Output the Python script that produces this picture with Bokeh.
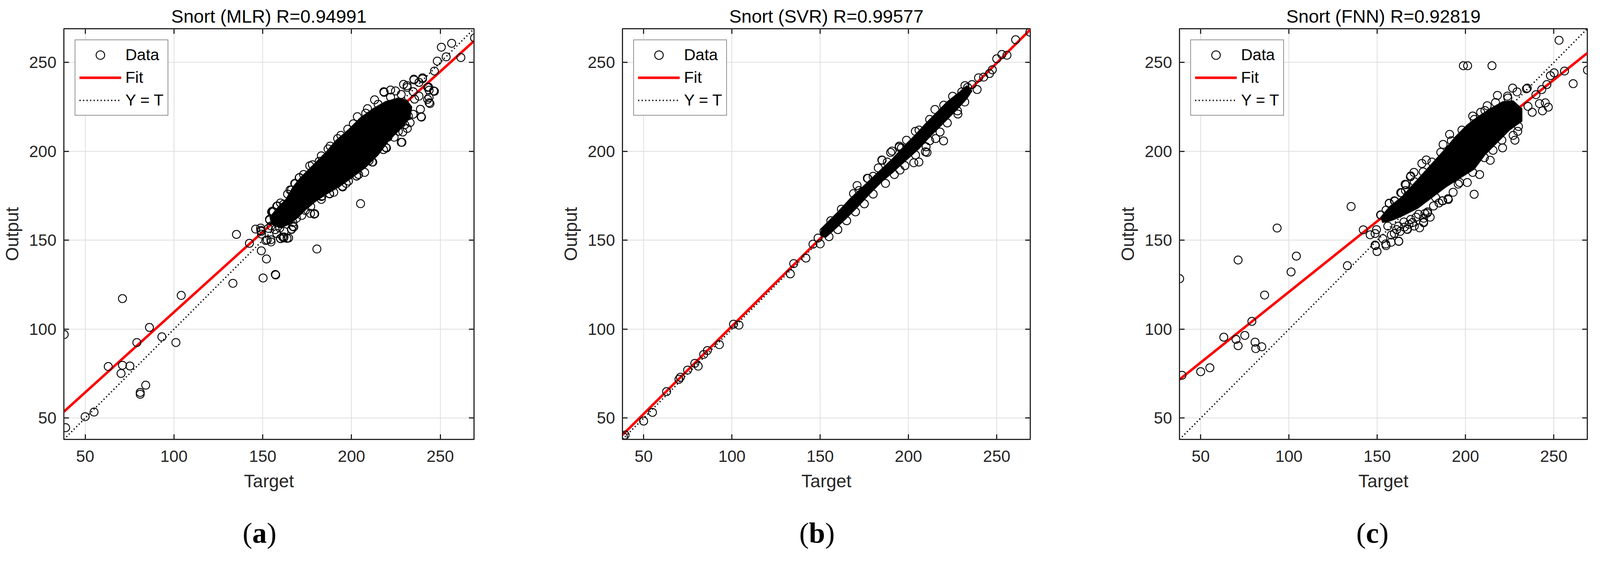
from bokeh.embed import file_html
from bokeh.layouts import column, row
from bokeh.models import Div, FixedTicker, Legend, LegendItem, LinearAxis, Range1d
from bokeh.plotting import figure
from bokeh.resources import INLINE

# Axis limits and ticks shared by the three regression panels.
axis_limits = [38, 269]
tick_values = [50, 100, 150, 200, 250]
identity_line = [38, 269]

# Panel (a): MLR
mlr_title = "Snort (MLR) R=0.94991"
mlr_fit_output = [53.6, 262.1]
mlr_target = [
    38.2, 39, 50, 55, 63, 71, 70.2, 71, 75.2, 79.1, 84.1, 81, 81, 86.2, 93.2, 101.1, 104.1,
    133.2, 135.2, 142.5, 146, 149.2, 150.2, 152.1, 157.1, 157.3, 149.2, 151.7, 154.6, 155.6,
    160, 162, 164.6, 167.5, 179.3, 180.5, 205.1,
    148.9, 149.3, 152.5, 154.7, 153.2, 154.7, 153.9, 157.9, 161.8, 160, 166.2, 166.9, 169,
    179.1, 174, 170.8, 183.4, 187.7, 194.9, 202.8, 155.4, 158.3, 161.8, 165.4, 168.3, 170.5,
    218.2, 229.3, 235.1, 240, 242.9, 246.2, 243.7, 243.7, 238.8, 239.2, 233, 228.9, 228,
    219.4, 220.6, 202.9, 195, 187.6, 183.1, 179, 176.9, 203.3, 197.9, 192.2, 186.8, 181.8,
    176.5, 170.7, 166.2, 157.9, 155, 153.8, 148.8, 224.8, 231.4, 234.7, 235.5, 238, 243.7,
    231.4, 226.4, 211.6, 209.9, 207.4, 198.3, 163.7, 166.2, 159.6, 161.2,
    228.4, 219.7, 239.4, 244.2, 242.9, 246.7, 243.4, 235.2, 240, 238, 246.7, 248.3, 250.6,
    253.3, 256.4, 261.6, 269.3, 218.4, 231.3, 234.7, 209, 213, 222,
    156, 160, 164, 168, 173, 178, 183, 188, 194, 201, 208, 215, 222, 228,
    232, 230, 224, 218, 212, 204, 197, 190, 183, 177, 172, 167, 162, 157,
]
mlr_output = [
    97, 44.6, 50.8, 53.4, 79, 117.2, 75.1, 79.7, 79.3, 92.5, 68.5, 64.4, 63.4, 101, 95.7, 92.5, 119,
    125.8, 153.3, 148.3, 156.3, 144.1, 128.8, 139.5, 130.8, 130.5, 155, 149.9, 150.3, 165.9,
    151, 151.9, 151.3, 157.5, 164.9, 145.1, 170.6,
    155.6, 153.5, 150.2, 149.1, 156.7, 158.1, 161.4, 153.8, 151.3, 150.9, 156.3, 157.8, 162.4,
    165, 166.8, 168.9, 175, 176.1, 180.4, 186.2, 166.4, 169.3, 170.3, 178.3, 181.8, 185.1,
    233.6, 237.7, 240.6, 241.4, 236, 234, 227.4, 230.3, 223.7, 219.5, 216.2, 210.9, 205.1,
    202.2, 208, 186.1, 180, 176.3, 174.6, 164.7, 165.1, 219.5, 212.5, 207.2, 201.4, 194.4,
    191.9, 185.3, 178.3, 169.2, 166, 161.8, 156.9, 234, 236, 233.6, 229.4, 231.1, 234.4,
    212.9, 211.3, 194, 194.8, 188.2, 183.3, 151.1, 156.1, 156.9, 151.9,
    205.1, 201.9, 219.3, 226.9, 229.3, 233.8, 236.2, 240.2, 240.8, 238.8, 245.2, 250.8, 258.6,
    253.2, 260.8, 252.8, 263.8, 233.2, 237, 220.9, 224, 229, 234.5,
    166, 171, 176, 182, 187, 192.5, 197.5, 203, 209, 215.5, 221.5, 226.5, 230.5, 232,
    220, 215, 208, 201, 194, 187, 182, 177, 173, 169, 164, 160, 155, 156,
]
# outline of the region where the MLR circles overlap into solid black
mlr_core_target = [154, 158, 163, 167, 171, 176, 181, 186, 191, 198, 205, 212, 219, 226, 231,
                   234, 233, 228, 221, 215, 208, 200, 193, 186, 180, 174, 170, 165, 160, 155]
mlr_core_output = [163, 168, 173, 180, 185, 190, 195, 200, 206, 212, 219, 224, 228, 230, 229,
                   225, 219, 213, 206, 198, 191, 185, 180, 176, 172, 167, 163, 159, 157, 159]

# Panel (b): SVR
svr_title = "Snort (SVR) R=0.99577"
svr_fit_output = [40.5, 268.5]
svr_target = [
    38.5, 39.5, 50, 55, 63, 70, 70.8, 74.9, 79, 80.9, 84, 86.1, 92.9, 100.9, 104, 133.1, 135,
    141.9, 145.9, 150, 148.8, 152.1,
    215, 203.9, 198.9, 194.8, 190.7, 184.9, 182.9, 176.7, 170.9, 168.9, 195.2, 203, 205.9,
    209.6, 210, 215.4, 217.9, 219.9, 238.9, 239.7, 242.6, 245.9, 247.5, 250, 252.9, 255.8,
    260.7, 268.8, 236, 233.5, 230.2, 227.8, 231.9, 227.8, 210.5, 185.1, 189.9, 194.7, 177,
    155, 160, 165, 170, 175, 180, 187, 192, 198, 204, 212, 222, 228,
    156, 162, 172, 180, 188, 196, 206, 212, 220, 225, 232,
]
svr_output = [
    39.5, 40.5, 48.3, 53.2, 64.9, 71.8, 73, 77, 80.8, 79.2, 85.8, 88, 91.3, 102.8, 102.3, 131.1,
    136.9, 140, 147.8, 148, 151.3, 155,
    223.6, 211.3, 206.3, 203, 200.2, 195.2, 190.7, 184.9, 180.8, 176.3, 189.5, 193.6, 194,
    199.8, 202.6, 207.2, 210.9, 205.9, 234.8, 241.4, 241.8, 243.8, 245.9, 252.1, 254.5, 254.1,
    262.8, 267.1, 237.6, 236, 233.5, 229.4, 227.8, 222.8, 199.4, 195, 199.4, 202.3, 184.8,
    152, 156, 161, 166, 170.5, 176, 182, 187, 192, 198, 206, 216, 221,
    161, 167.5, 178, 186, 194, 202, 212, 218, 226, 231, 237,
]
svr_core_target = [151, 160, 167, 175, 183, 191, 198, 204, 210, 216, 222, 229, 233, 236, 233,
                   227, 221, 216, 211, 206, 201, 196.5, 191, 185, 178, 171, 164, 157, 153, 150]
svr_core_output = [157, 166, 173.5, 181, 188.5, 196, 203.5, 209.5, 216, 222, 228, 233.5, 237,
                   234, 229.5, 223, 217, 212, 207, 201.5, 197, 193, 188, 183, 176, 168.5, 161.5,
                   155, 151.5, 153]

# Panel (c): FNN
fnn_title = "Snort (FNN) R=0.92819"
fnn_fit_output = [71.7, 255.3]
fnn_target = [
    38.1, 39.4, 50, 55.2, 63.1, 70, 71.2, 75, 71.2, 79, 80.8, 81.2, 84.6, 86.2, 93.3, 101.2,
    104.2, 133.1, 135.2, 142.1,
    146, 148.8, 149.6, 148.8, 149.9, 155, 157.9, 162.2, 153.2, 159.7, 166.9, 176.3, 176.3,
    178.4, 187.1, 190.3, 183.1, 152.1, 156.8, 163.3, 165.8, 169, 159.7, 165.1, 169, 173.4, 165.4,
    253, 198.8, 201.2, 215, 269.1, 261, 256.1, 250.2, 248.1, 246.1, 243.2, 239.9, 235, 226.7,
    229.2, 218.1, 223.8, 212.3, 204.1, 208.6, 191, 187.3, 177.8, 175.3, 170.8, 168.8, 166.3,
    163.8, 156.8, 151.9, 204.9, 228, 229.6, 246.9, 243.6, 237.8, 245.2, 235.4, 220.6, 215.6,
    210.7, 204.1, 196.7, 190.1, 186.8, 195.9, 181.9, 178.6, 176.2, 167.1, 162.2, 154.8, 149,
    234.5, 241.9,
    155, 160, 166, 171, 176, 181, 186, 192, 198, 205, 211, 217, 224,
    230, 227, 221, 214, 208, 201, 193, 185, 177, 170, 162, 156,
    158, 163, 171, 174, 180, 172, 168, 161,
]
fnn_output = [
    128.4, 74.1, 76.1, 78.3, 95.5, 94.3, 90.7, 96.5, 138.9, 104.4, 92.7, 89.1, 90.1, 119.2,
    156.9, 132.2, 141.1, 135.7, 169, 155.9,
    153.1, 153.8, 156, 147.3, 143.7, 147, 148.9, 149.4, 150.9, 153.8, 156.3, 159.9, 162.4,
    165.3, 172.2, 172.9, 174, 164.2, 170.7, 176.8, 181.5, 186.2, 172.2, 160.3, 161.7, 164.6, 157.4,
    262.5, 248.2, 248.2, 248.2, 245.7, 238.1, 245.2, 244.2, 242.6, 237.6, 234.8, 231.9, 235.6,
    235.6, 233.5, 231.5, 231.1, 225.7, 219.9, 222, 209.6, 203.9, 195.2, 193.2, 188.2, 185.7,
    181.2, 176.7, 170.9, 164.3, 175.9, 206.3, 211.3, 224.9, 222.8, 222, 227.3, 225.3, 206.3,
    200.6, 196.5, 188.2, 182.5, 173.4, 172.2, 181.6, 169.3, 166, 160.2, 156.1, 149.5, 147.9,
    147, 235.2, 226.9,
    167, 172, 178, 183, 188.5, 194, 199.5, 206, 212, 218, 223, 227.5, 230,
    214, 209, 202, 195, 187, 182.5, 177, 171, 165, 160, 158, 158,
    153, 155, 158, 157, 163, 163, 159, 156,
]
fnn_core_target = [152, 157, 164, 169, 174, 179, 184, 189, 194, 201, 207, 214, 221, 227, 232,
                   232, 225, 218, 211, 205, 197, 189, 181, 173, 165, 158, 153]
fnn_core_output = [163, 169, 174.5, 180, 185.5, 191, 196.5, 202, 208, 215, 219.5, 224, 228,
                   228.5, 224, 217, 212, 205, 198, 190, 185, 180, 174, 168, 164, 161, 160]

INK = "#262626"
SANS = "Liberation Sans"


def make_panel(title, target, output, core_target, core_output, fit_output,
               width, border_left, border_right):
    p = figure(
        title=title,
        x_range=Range1d(*axis_limits),
        y_range=Range1d(*axis_limits),
        width=width,
        height=1320,
        min_border_left=border_left,
        min_border_right=border_right,
        min_border_top=73,
        min_border_bottom=196,
        output_backend="svg",
        toolbar_location=None,
        margin=0,
    )
    p.title.text_font = SANS
    p.title.text_font_size = "47px"
    p.title.text_font_style = "normal"
    p.title.text_color = "black"
    p.title.align = "center"
    p.title.standoff = 11

    p.outline_line_color = INK
    p.outline_line_width = 3
    p.outline_line_alpha = 1

    for axis in (p.xaxis[0], p.yaxis[0]):
        axis.ticker = FixedTicker(ticks=tick_values)
        axis.major_tick_in = 13
        axis.major_tick_out = 0
        axis.major_tick_line_width = 3
        axis.major_tick_line_color = INK
        axis.minor_tick_line_color = None
        axis.axis_line_color = INK
        axis.axis_line_width = 3
        axis.major_label_text_font = SANS
        axis.major_label_text_font_size = "42px"
        axis.major_label_text_color = INK
        axis.axis_label_text_font = SANS
        axis.axis_label_text_font_size = "46px"
        axis.axis_label_text_font_style = "normal"
        axis.axis_label_text_color = INK
    p.xaxis.axis_label = "Target"
    p.yaxis.axis_label = "Output"
    p.xaxis.major_label_standoff = 28
    p.xaxis.axis_label_standoff = 20
    p.yaxis.major_label_standoff = 19
    p.yaxis.axis_label_standoff = 14

    # MATLAB box: ticks on the top and right edges too
    for side in ("above", "right"):
        extra = LinearAxis(
            ticker=FixedTicker(ticks=tick_values),
            major_label_overrides={t: "" for t in tick_values},
            major_label_text_font_size="0px",
            major_label_standoff=0,
            major_tick_in=13,
            major_tick_out=0,
            major_tick_line_width=3,
            major_tick_line_color=INK,
            minor_tick_line_color=None,
            axis_line_color=None,
        )
        p.add_layout(extra, side)

    p.grid.ticker = FixedTicker(ticks=tick_values)
    p.grid.grid_line_color = "#dedede"
    p.grid.grid_line_width = 2

    r_ident = p.line(axis_limits, identity_line, line_color="black", line_width=3.5,
                     line_dash="3 6")
    r_fit = p.line(axis_limits, fit_output, line_color="#ff0000", line_width=6.4)
    p.patch(core_target, core_output, fill_color="black", line_color="black", line_width=2)
    r_data = p.scatter(target, output, marker="circle", size=20.5, fill_color=None,
                       line_color="black", line_width=2.25)

    legend = Legend(
        items=[
            LegendItem(label="Data", renderers=[r_data]),
            LegendItem(label="Fit", renderers=[r_fit]),
            LegendItem(label="Y = T", renderers=[r_ident]),
        ],
        location="top_left",
        margin=28,
        padding=10,
        spacing=3,
        glyph_width=107,
        glyph_height=55,
        label_height=55,
        label_standoff=11,
        label_text_font=SANS,
        label_text_font_size="41px",
        label_text_color="black",
        border_line_color=INK,
        border_line_width=2,
        background_fill_color="white",
        background_fill_alpha=1,
    )
    p.add_layout(legend)
    return p


def make_caption(letter, pad_left):
    html = (
        '<div style="padding-left:' + str(pad_left) + 'px;white-space:nowrap;'
        'font-family:\'Liberation Serif\';font-size:74.5px;line-height:89px;color:#000">'
        '(<b>' + letter + '</b>)</div>'
    )
    return Div(text=html, width=1000, height=89, margin=0)


panel_a = make_panel(mlr_title, mlr_target, mlr_output, mlr_core_target, mlr_core_output,
                     mlr_fit_output, 1432, 163, 219)
panel_b = make_panel(svr_title, svr_target, svr_output, svr_core_target, svr_core_output,
                     svr_fit_output, 1426, 155, 221)
panel_c = make_panel(fnn_title, fnn_target, fnn_output, fnn_core_target, fnn_core_output,
                     fnn_fit_output, 1225, 155, 20)

layout = row(
    column(panel_a, make_caption("a", 621)),
    column(panel_b, make_caption("b", 614)),
    column(panel_c, make_caption("c", 614)),
)

open("out.html", "w").write(file_html(layout, INLINE))
